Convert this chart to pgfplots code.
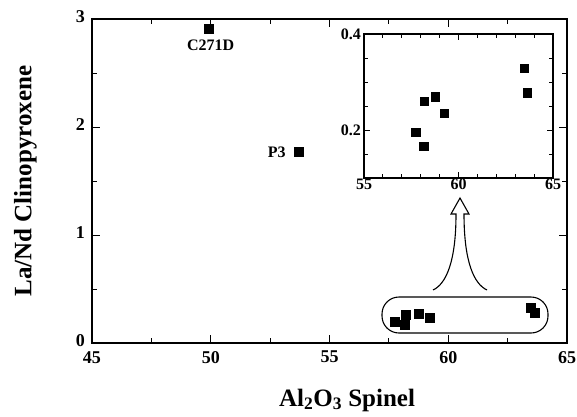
\documentclass[border=0pt]{standalone}
\usepackage{pgfplots}
\pgfplotsset{compat=1.18}
\usepackage{fontspec}
\setmainfont{Liberation Serif}
\begin{document}
\begin{tikzpicture}
\useasboundingbox (-92pt,-73pt) rectangle (485pt,343pt);
\begin{axis}[
  at={(0pt,0pt)}, anchor=south west,
  scale only axis, width=475pt, height=324pt,
  xmin=45, xmax=65, ymin=0, ymax=3,
  xtick={45,50,...,65}, minor xtick={47.5,52.5,57.5,62.5},
  ytick={0,1,2,3}, minor ytick={0.5,1.5,2.5},
  tick align=inside,
  major tick length=8pt, minor tick length=5pt,
  axis line style={line width=1.1pt},
  every tick/.style={line width=1pt, black},
  tick label style={font=\bfseries\fontsize{18}{20}\selectfont},
  /pgf/number format/assume math mode=true,
  xticklabel style={inner sep=1pt, yshift=-7pt},
  yticklabel style={inner sep=1pt, xshift=-6pt, yshift=2pt},
  xlabel={Al\textsubscript{2}O\textsubscript{3} Spinel},
  xlabel style={font=\bfseries\fontsize{25}{28}\selectfont, at={(axis description cs:0.537,-0.176)}, anchor=center},
  ylabel={La/Nd Clinopyroxene},
  ylabel style={font=\bfseries\fontsize{25}{28}\selectfont, at={(axis description cs:-0.14,0.5)}, anchor=center},
]
\addplot[only marks, mark=square*, mark size=4.5pt, black] coordinates {
(49.9,2.91) (53.7,1.77)
(63.48,0.329) (63.65,0.278) (58.19,0.26) (58.77,0.269) (59.23,0.235) (57.73,0.195) (58.15,0.166)
};
\node[font=\bfseries\fontsize{16}{18}\selectfont] at (axis cs:50.0,2.76) {C271D};
\node[font=\bfseries\fontsize{16}{18}\selectfont, left] at (axis cs:53.3,1.77) {P3};
\end{axis}
\begin{axis}[
  at={(272pt,165pt)}, anchor=south west,
  scale only axis, width=189pt, height=144pt,
  axis background/.style={fill=white},
  xmin=55, xmax=65, ymin=0.1, ymax=0.4,
  xtick={55,60,65}, minor xtick={56,57,58,59,61,62,63,64},
  ytick={0.2,0.4}, minor ytick={0.15,0.25,0.3,0.35},
  tick align=inside,
  major tick length=6pt, minor tick length=4pt,
  axis line style={line width=1.1pt},
  every tick/.style={line width=0.9pt, black},
  tick label style={font=\bfseries\fontsize{16}{18}\selectfont},
  /pgf/number format/assume math mode=true,
  xticklabel style={inner sep=1pt},
  yticklabel style={inner sep=3pt, /pgf/number format/.cd, fixed, precision=1},
]
\addplot[only marks, mark=square*, mark size=4.2pt, black] coordinates {
(63.48,0.329) (63.65,0.278) (58.19,0.26) (58.77,0.269) (59.23,0.235) (57.73,0.195) (58.15,0.166)
};
\end{axis}
\draw[line width=1.1pt, rounded corners=17pt] (290pt,10pt) rectangle (456pt,46pt);
\draw[line width=1.1pt] (341pt,53pt) .. controls (354pt,59pt) and (364pt,81pt) .. (364pt,129pt)
  -- (359pt,129pt) -- (368pt,145pt) -- (377pt,129pt) -- (372pt,129pt)
  .. controls (372pt,81pt) and (382pt,59pt) .. (395pt,53pt);
\end{tikzpicture}
\end{document}
